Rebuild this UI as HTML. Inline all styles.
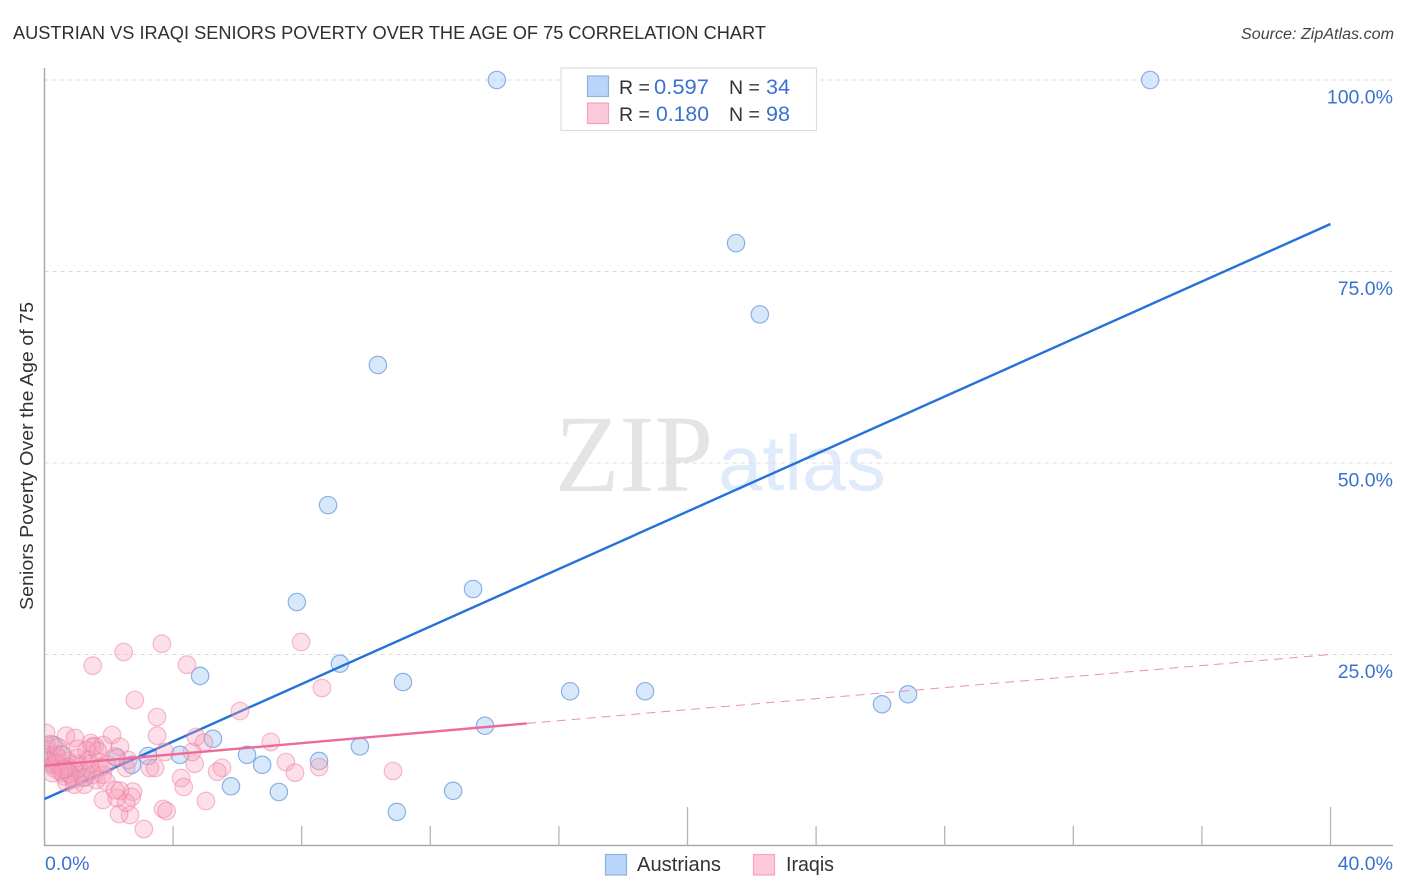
<!DOCTYPE html>
<html lang="en">
<head>
<meta charset="utf-8">
<title>Austrian vs Iraqi Seniors Poverty Over the Age of 75 Correlation Chart</title>
<style>
html,body{margin:0;padding:0;background:#fff;}
body{width:1406px;height:892px;overflow:hidden;}
svg{display:block;font-family:"Liberation Sans",sans-serif;}
</style>
</head>
<body>
<svg id="chart" xmlns="http://www.w3.org/2000/svg" width="1406" height="892" viewBox="0 0 1406 892">
  <defs>
    <clipPath id="plot-clip"><rect x="45.2" y="60" width="1360" height="786"/></clipPath>
  </defs>
  <text x="13" y="39" font-size="18.5" fill="#2e2e33" textLength="753" lengthAdjust="spacingAndGlyphs">AUSTRIAN VS IRAQI SENIORS POVERTY OVER THE AGE OF 75 CORRELATION CHART</text>
  <text x="1394" y="39" font-size="15.5" font-style="italic" fill="#444" text-anchor="end" textLength="153" lengthAdjust="spacingAndGlyphs">Source: ZipAtlas.com</text>
  <text x="555" y="491" font-family="'Liberation Serif',serif" font-size="110" fill="#e4e4e4" textLength="158" lengthAdjust="spacingAndGlyphs">ZIP</text>
  <text x="718" y="490" font-size="78" fill="#dfeafb" textLength="168" lengthAdjust="spacingAndGlyphs">atlas</text>
  <g id="grid"></g>
  <g id="axes"></g>
  <g id="blue-points" clip-path="url(#plot-clip)"></g>
  <g id="blue-line"></g>
  <g id="pink-points" clip-path="url(#plot-clip)"></g>
  <g id="pink-line"></g>
  <text transform="translate(33,456) rotate(-90)" font-size="18.5" fill="#333" text-anchor="middle" textLength="308" lengthAdjust="spacingAndGlyphs">Seniors Poverty Over the Age of 75</text>

  <g>
    <rect x="561" y="68" width="255.5" height="62.5" fill="#fff" stroke="#ddd" stroke-width="1.2"/>
    <rect x="587.5" y="76" width="21" height="20.5" fill="#b9d5f9" stroke="#8cb2e2" stroke-width="1.2"/>
    <rect x="587.5" y="103" width="21" height="20.5" fill="#fcc9da" stroke="#f3a3be" stroke-width="1.2"/>
    <text x="619" y="94" font-size="19.5" fill="#333">R =</text>
    <text x="654" y="94" font-size="21" fill="#3b72d2" textLength="55" lengthAdjust="spacingAndGlyphs">0.597</text>
    <text x="729" y="94" font-size="19.5" fill="#333">N =</text>
    <text x="766" y="94" font-size="21" fill="#3b72d2" textLength="24" lengthAdjust="spacingAndGlyphs">34</text>
    <text x="619" y="121" font-size="19.5" fill="#333">R =</text>
    <text x="656" y="121" font-size="21" fill="#3b72d2" textLength="53" lengthAdjust="spacingAndGlyphs">0.180</text>
    <text x="729" y="121" font-size="19.5" fill="#333">N =</text>
    <text x="766" y="121" font-size="21" fill="#3b72d2" textLength="24" lengthAdjust="spacingAndGlyphs">98</text>
  </g>

  <g>
    <rect x="605.5" y="854.5" width="21" height="20.5" fill="#b9d5f9" stroke="#8cb2e2" stroke-width="1.2"/>
    <text x="637" y="871" font-size="20" fill="#333" textLength="84" lengthAdjust="spacingAndGlyphs">Austrians</text>
    <rect x="753.5" y="854.5" width="21" height="20.5" fill="#fcc9da" stroke="#f3a3be" stroke-width="1.2"/>
    <text x="786" y="871" font-size="20" fill="#333" textLength="48" lengthAdjust="spacingAndGlyphs">Iraqis</text>
  </g>
</svg>
<script>
const xTicks = [0, 4, 8, 12, 16, 20, 24, 28, 32, 36, 40];
const xMajorTicks = [20, 40];
const xTickLabels = [[0, "0.0%"], [40, "40.0%"]];
const yTicks = [25, 50, 75, 100];
const yTickLabels = ["25.0%", "50.0%", "75.0%", "100.0%"];

const austriansX = [14.07,34.39,21.51,22.25,10.37,8.82,13.33,7.85,9.19,4.84,11.15,16.35,18.68,26.86,26.05,13.70,5.24,9.81,8.54,4.21,3.22,6.30,6.77,2.72,5.80,7.29,12.71,10.96,2.25,1.26,0.28,0.52,0.28,0.05];
const austriansY = [100,100,78.7,69.4,62.8,44.5,33.55,31.85,23.8,22.2,21.4,20.2,20.2,19.8,18.5,15.7,14.0,13.0,11.1,11.9,11.75,11.9,10.6,10.6,7.8,7.05,7.2,4.45,11.5,9.0,13.2,11.9,10.7,12.0];

const iraqisX = [1.50,2.46,3.65,4.43,7.98,8.63,2.81,3.50,3.50,6.08,4.71,4.96,7.04,7.51,7.79,4.67,5.52,5.37,4.25,4.33,5.02,3.69,3.80,3.09,2.66,2.32,1.82,2.75,2.71,2.54,2.35,2.25,3.28,3.44,2.54,2.10,2.35,2.60,0.67,0.05,0.95,1.44,1.57,1.48,1.82,8.54,10.84,3.75,4.59,0.08,0.12,0.17,0.21,0.26,0.31,0.18,0.36,0.41,0.44,0.52,0.56,0.61,0.68,0.72,0.74,0.83,0.86,0.91,0.93,1.02,1.06,1.09,1.17,1.21,1.24,1.31,1.36,1.42,1.44,1.52,1.61,1.66,1.69,1.77,1.81,1.92,1.94,0.78,0.66,0.48,2.21,0.35,0.59,2.19,1.03,0.42,0.24,0.57];
const iraqisY = [23.54,25.33,26.41,23.67,26.63,20.63,19.06,16.84,14.40,17.62,14.23,13.49,13.58,10.97,9.57,10.74,10.22,9.70,8.88,7.70,5.87,4.83,4.57,2.22,4.05,4.18,6.01,7.09,6.40,5.65,7.22,6.27,10.18,10.18,10.18,14.49,12.96,11.23,14.40,14.75,14.10,13.45,13.05,12.96,13.19,10.31,9.79,12.27,12.27,13.1,12.4,11.7,11.3,10.5,10.1,13.3,11.9,11.5,10.7,10.3,9.5,9.1,8.3,11.1,10.3,9.9,9.1,8.7,8.0,11.5,10.7,10.3,9.3,8.9,8.0,12.5,11.2,10.7,9.8,9.3,8.6,12.4,10.9,10.3,9.3,8.4,10.7,9.4,10.1,9.8,11.7,10.9,10.0,7.3,12.7,12.9,9.5,12.0];

const austriansTrendX = [0, 40];
const austriansTrendY = [6.14, 81.2];
const iraqisSolidX = [0, 15];
const iraqisSolidY = [10.5, 16.0];
const iraqisDashX = [15, 40];
const iraqisDashY = [16.0, 25.0];

const NS = "http://www.w3.org/2000/svg";
function sx(v){ return 44.5 + v * 32.15; }
function sy(v){ return 846 - v * 7.66; }
function mk(tag, attrs, parent){
  const el = document.createElementNS(NS, tag);
  for (const k in attrs) el.setAttribute(k, attrs[k]);
  parent.appendChild(el);
  return el;
}
const grid = document.getElementById("grid");
const axes = document.getElementById("axes");

yTicks.forEach(function(t, i){
  const line = mk("line", {x1:44.5, x2:1393, y1:sy(t), y2:sy(t), stroke:"#dcdcdc", "stroke-width":1, "stroke-dasharray":"4 4"}, grid);
  
  
  const label = mk("text", {x:1393, y:sy(t) + 23.5, "font-size":19.5, fill:"#3b72d2", "text-anchor":"end"}, axes);
  label.textContent = yTickLabels[i];
  
  
});

const yAxis = mk("line", {x1:44.5, x2:44.5, y1:68, y2:846, stroke:"#aaa", "stroke-width":1.5}, axes);


const xAxis = mk("line", {x1:44, x2:1393, y1:845.5, y2:845.5, stroke:"#aaa", "stroke-width":1.5}, axes);



xTicks.forEach(function(t){
  if (t === 0) return;
  const major = xMajorTicks.indexOf(t) >= 0;
  const tick = mk("line", {x1:sx(t), x2:sx(t), y1:major ? 807 : 826, y2:845.5, stroke:"#b5b5b5", "stroke-width":1.3}, axes);
  
  
});

xTickLabels.forEach(function(pair){
  const isFirst = pair[0] === 0;
  const label = mk("text", {x:isFirst ? 45 : 1393, y:870, "font-size":19.5, fill:"#3b72d2", "text-anchor":isFirst ? "start" : "end"}, axes);
  label.textContent = pair[1];
  
  
});

const bluePoints = document.getElementById("blue-points");
austriansX.forEach(function(x, i){
  const dot = mk("circle", {cx:sx(x), cy:sy(austriansY[i]), r:8.7, fill:"rgba(165,203,245,0.45)", stroke:"rgba(95,150,220,0.7)", "stroke-width":1.2}, bluePoints);
  
  
});

const blueLine = mk("line", {x1:sx(austriansTrendX[0]), y1:sy(austriansTrendY[0]), x2:sx(austriansTrendX[1]), y2:sy(austriansTrendY[1]), stroke:"#2472d8", "stroke-width":2.4}, document.getElementById("blue-line"));



const pinkPoints = document.getElementById("pink-points");
iraqisX.forEach(function(x, i){
  const dot = mk("circle", {cx:sx(x), cy:sy(iraqisY[i]), r:8.8, fill:"rgba(247,160,188,0.34)", stroke:"rgba(236,125,160,0.5)", "stroke-width":1.2}, pinkPoints);
  
  
});

const pinkGroup = document.getElementById("pink-line");
const pinkSolid = mk("line", {x1:sx(iraqisSolidX[0]), y1:sy(iraqisSolidY[0]), x2:sx(iraqisSolidX[1]), y2:sy(iraqisSolidY[1]), stroke:"#ee6a9a", "stroke-width":2.4}, pinkGroup);


const pinkDash = mk("line", {x1:sx(iraqisDashX[0]), y1:sy(iraqisDashY[0]), x2:sx(iraqisDashX[1]), y2:sy(iraqisDashY[1]), stroke:"#ee8fb0", "stroke-width":1, "stroke-dasharray":"9 6"}, pinkGroup);


</script>
</body>
</html>
